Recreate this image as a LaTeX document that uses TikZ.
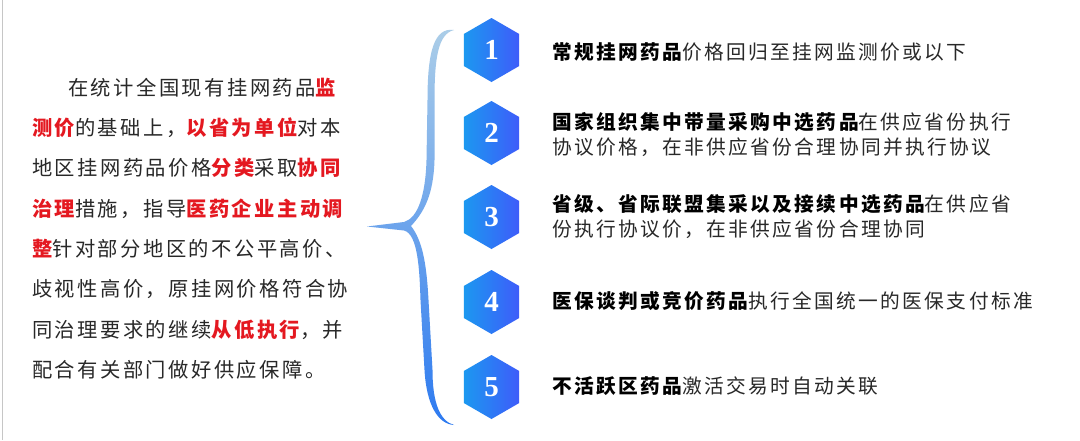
\documentclass[tikz,border=0pt]{standalone}
\usepackage{fontspec}
\newfontfamily\cjk[LetterSpace=12]{Noto Sans CJK SC}
\newfontfamily\numfont{Liberation Serif}
\usetikzlibrary{shapes.geometric}
\definecolor{hl}{RGB}{228,24,32}
\definecolor{txt}{RGB}{40,40,40}
\definecolor{hexL}{RGB}{28,152,240}
\definecolor{hexR}{RGB}{62,92,250}
\definecolor{braceT}{RGB}{172,206,232}
\definecolor{braceM}{RGB}{60,165,230}
\definecolor{braceB}{RGB}{45,122,240}
\newcommand{\hb}[1]{{\bfseries\color{hl}#1}}
\newcommand{\kb}[1]{{\bfseries\color{black}#1}}
\begin{document}
\begin{tikzpicture}[x=1pt,y=-1pt,
  hexnode/.style={regular polygon, regular polygon sides=6, shape border rotate=30,
    minimum size=64pt, inner sep=0pt, outer sep=0pt, left color=hexL, right color=hexR,
    draw=none, text=white, font=\numfont\bfseries\fontsize{29}{29}\selectfont},
  lefttxt/.style={anchor=base west, inner sep=0pt, font=\cjk\fontsize{20.3}{20.3}\selectfont, text=txt},
  righttxt/.style={anchor=base west, inner sep=0pt, font=\cjk\fontsize{19.7}{19.7}\selectfont, text=txt}]
\useasboundingbox (0,0) rectangle (1080,440);
\fill[white] (0,0) rectangle (1080,440);
\draw[gray!45, line width=1.2pt] (2.5,0) -- (2.5,440);

% left paragraph
\node[lefttxt] (l1) at (68,95.7) {在统计全国现有挂网药品\hb{监}};
\node[lefttxt] (l2) at (32,135.7) {\hb{测价}的基础上，\hb{以省为单位}对本};
\node[lefttxt] (l3) at (32,175.7) {地区挂网药品价格\hb{分类}采取\hb{协同}};
\node[lefttxt] (l4) at (32,216.7) {\hb{治理}措施，指导\hb{医药企业主动调}};
\node[lefttxt] (l5) at (32,256.7) {\hb{整}针对部分地区的不公平高价、};
\node[lefttxt] (l6) at (32,296.7) {歧视性高价，原挂网价格符合协};
\node[lefttxt] (l7) at (32,337.7) {同治理要求的继续\hb{从低执行}，并};
\node[lefttxt] (l8) at (32,377.7) {配合有关部门做好供应保障。};

% brace
\shade[top color=braceT, middle color=braceM, bottom color=braceB]
  (454,30) .. controls (434,27) and (427.5,52) .. (427.5,100)
  -- (426.5,160) .. controls (425.5,195) and (418,218) .. (404,222)
  -- (367,226.5) -- (404,230.5)
  .. controls (418,234) and (419.5,270) .. (420.5,300)
  -- (424.5,370) .. controls (426.5,405) and (438,424) .. (454,425)
  .. controls (440,421) and (432.5,403) .. (432.5,370)
  -- (428.5,300) .. controls (426.5,262) and (422,240) .. (411,226)
  .. controls (424,212) and (433.5,195) .. (434.5,160)
  -- (434.5,100) .. controls (434.5,58) and (438,34) .. (454,30) -- cycle;

% hexagons
\node[hexnode] (h1) at (491.5,50) {1};
\node[hexnode] (h2) at (491.5,133) {2};
\node[hexnode] (h3) at (491.5,217) {3};
\node[hexnode] (h4) at (491.5,302) {4};
\node[hexnode] (h5) at (491.5,387) {5};

% right texts
\node[righttxt] (r1) at (552,59.5) {\kb{常规挂网药品}价格回归至挂网监测价或以下};
\node[righttxt] (r2a) at (552,129.5) {\kb{国家组织集中带量采购中选药品}在供应省份执行};
\node[righttxt] (r2b) at (552,154.5) {协议价格，在非供应省份合理协同并执行协议};
\node[righttxt] (r3a) at (552,211.5) {\kb{省级、省际联盟集采以及接续中选药品}在供应省};
\node[righttxt] (r3b) at (552,236.5) {份执行协议价，在非供应省份合理协同};
\node[righttxt] (r4) at (552,308.5) {\kb{医保谈判或竞价药品}执行全国统一的医保支付标准};
\node[righttxt] (r5) at (552,393.5) {\kb{不活跃区药品}激活交易时自动关联};
\end{tikzpicture}
\end{document}
